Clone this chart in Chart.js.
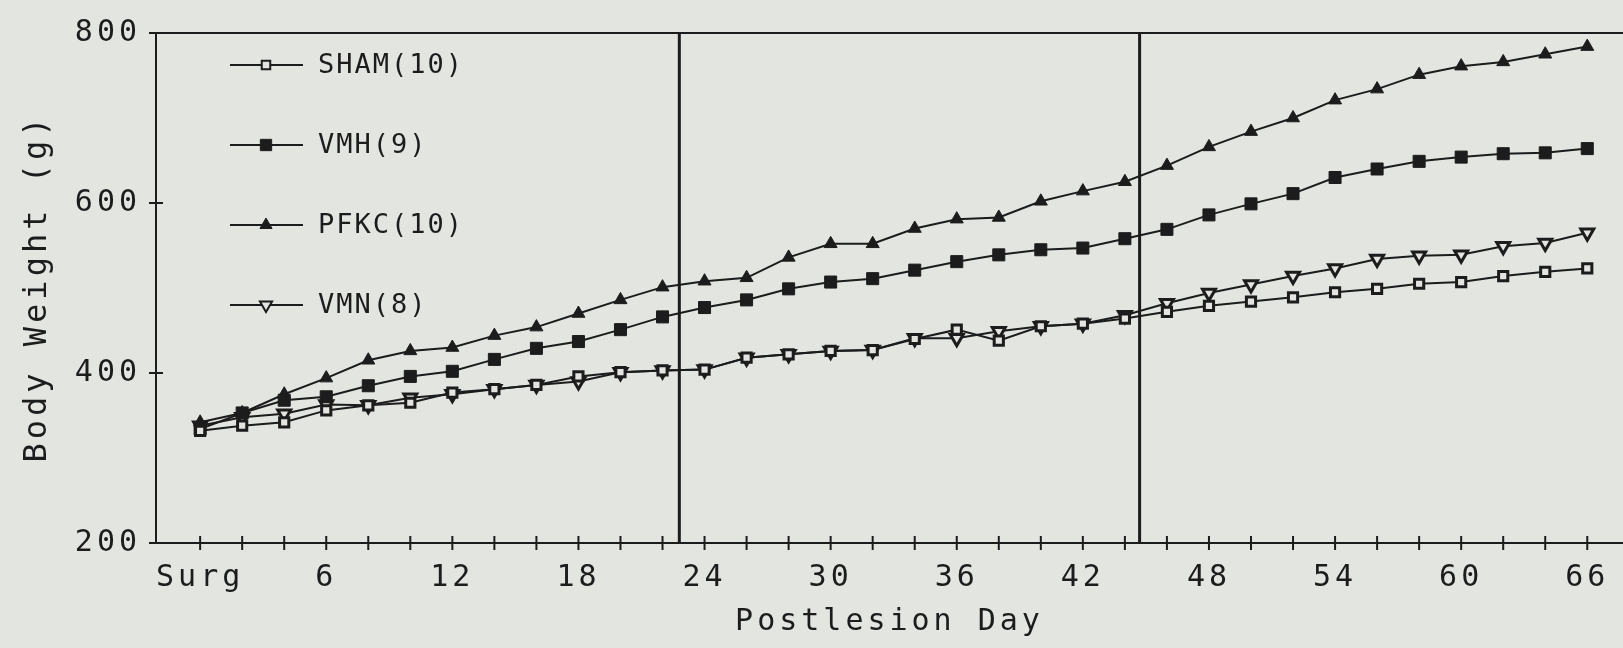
<!DOCTYPE html>
<html>
<head>
<meta charset="utf-8">
<script src="https://cdn.jsdelivr.net/npm/chart.js"></script>
<style>
  html, body { margin: 0; padding: 0; background: #e3e5e1; }
  canvas { display: block; }
</style>
</head>
<body>
<canvas id="weightChart" width="1623" height="648"></canvas>
<script>
// Postlesion day of each weighing (Surg = day 0)
const days = [0, 2, 4, 6, 8, 10, 12, 14, 16, 18, 20, 22, 24, 26, 28, 30, 32,
              34, 36, 38, 40, 42, 44, 46, 48, 50, 52, 54, 56, 58, 60, 62, 64, 66];
const labelDays = [0, 6, 12, 18, 24, 30, 36, 42, 48, 54, 60, 66];
const weightTicks = [200, 400, 600, 800];
const phaseDays = [22.8, 44.7];   // the two vertical lines

// mean body weight (g) per group
const sham = [332, 338, 342, 356, 362, 365, 377, 381, 386, 396, 401, 403, 404, 418, 422, 426, 427,
              440, 451, 438, 455, 458, 464, 472, 479, 484, 489, 495, 499, 505, 507, 514, 519, 523];
const vmh  = [334, 353, 368, 372, 385, 396, 402, 416, 429, 437, 451, 466, 477, 486, 499, 507, 511,
              521, 531, 539, 545, 547, 558, 569, 586, 599, 611, 630, 640, 649, 654, 658, 659, 664];
const pfkc = [342, 353, 375, 394, 415, 426, 430, 444, 454, 470, 486, 501, 508, 512, 536, 552, 552,
              570, 581, 583, 602, 614, 625, 644, 666, 684, 700, 721, 734, 751, 761, 766, 775, 784];
const vmn  = [338, 348, 352, 363, 362, 371, 375, 381, 386, 390, 401, 403, 404, 418, 422, 426, 427,
              441, 441, 449, 455, 458, 468, 482, 494, 504, 514, 523, 534, 538, 539, 549, 553, 565];

const ink = '#1c1c1c';
const paper = '#e3e5e1';
const mono = 'DejaVu Sans Mono';

function series(label, values, style, open, rotation, radius) {
    return {
        label: label,
        data: days.map((d, i) => ({ x: d, y: values[i] })),
        borderColor: ink,
        borderWidth: 2,
        pointStyle: style,
        pointRotation: rotation,
        pointRadius: radius,
        pointBackgroundColor: open ? paper : ink,
        pointBorderColor: ink,
        pointBorderWidth: open ? 3 : 1,
        tension: 0,
        fill: false
    };
}

const groups = [
    series('SHAM(10)', sham, 'rect', true, 0, 6.5),
    series('VMH(9)', vmh, 'rect', false, 0, 8.5),
    series('PFKC(10)', pfkc, 'triangle', false, 0, 7.5),
    series('VMN(8)', vmn, 'triangle', true, 180, 7.5)
];

// small marker drawer for the legend
function marker(ctx, style, open, rotation, r, x, y) {
    ctx.beginPath();
    if (style === 'rect') {
        const h = r * Math.SQRT1_2;
        ctx.rect(x - h, y - h, 2 * h, 2 * h);
    } else {
        const s = rotation ? -1 : 1;
        ctx.moveTo(x, y - s * r);
        ctx.lineTo(x + r * 0.866, y + s * r * 0.5);
        ctx.lineTo(x - r * 0.866, y + s * r * 0.5);
        ctx.closePath();
    }
    ctx.fillStyle = open ? paper : ink;
    ctx.fill();
    ctx.lineWidth = open ? 2 : 1;
    ctx.stroke();
}

const framePlugin = {
    id: 'frame',
    beforeInit(chart) { chart.ctx.letterSpacing = '4px'; },
    beforeDraw(chart) { chart.ctx.letterSpacing = '4px'; },
    beforeDatasetsDraw(chart) {
        const ctx = chart.ctx;
        const xs = chart.scales.x, ys = chart.scales.y;
        const { left, right, top, bottom } = chart.chartArea;
        ctx.save();
        ctx.strokeStyle = ink;
        ctx.lineWidth = 2;
        ctx.beginPath();
        ctx.moveTo(left, top); ctx.lineTo(right, top);
        ctx.moveTo(left, top); ctx.lineTo(left, bottom); ctx.lineTo(right, bottom);
        days.forEach(d => {
            const px = xs.getPixelForValue(d);
            ctx.moveTo(px, bottom - 7); ctx.lineTo(px, bottom + 7);
        });
        weightTicks.forEach(v => {
            const py = ys.getPixelForValue(v);
            ctx.moveTo(left - 7, py); ctx.lineTo(left + 7, py);
        });
        ctx.stroke();

        ctx.lineWidth = 3;
        ctx.beginPath();
        phaseDays.forEach(d => {
            const px = xs.getPixelForValue(d);
            ctx.moveTo(px, top); ctx.lineTo(px, bottom);
        });
        ctx.stroke();

        // legend, top-left inside the plot
        const legendStyle = [
            ['rect', true, 0, 6], ['rect', false, 0, 8],
            ['triangle', false, 0, 7], ['triangle', true, 180, 7]
        ];
        ctx.font = '27px "' + mono + '"';
        ctx.letterSpacing = '2px';
        ctx.textBaseline = 'middle';
        ctx.textAlign = 'left';
        groups.forEach((g, i) => {
            const y = 65 + i * 80;
            ctx.lineWidth = 2;
            ctx.strokeStyle = ink;
            ctx.beginPath();
            ctx.moveTo(230, y); ctx.lineTo(303, y);
            ctx.stroke();
            const s = legendStyle[i];
            marker(ctx, s[0], s[1], s[2], s[3], 266, y);
            ctx.fillStyle = ink;
            ctx.fillText(g.label, 318, y + 1);
        });
        ctx.restore();
    }
};

const tickFont = { family: mono, size: 30 };

new Chart(document.getElementById('weightChart').getContext('2d'), {
    type: 'line',
    data: { datasets: groups },
    options: {
        responsive: false,
        animation: false,
        layout: { autoPadding: false, padding: { top: 29, right: 0, bottom: 0, left: 0 } },
        plugins: {
            legend: { display: false },
            tooltip: { enabled: false }
        },
        scales: {
            x: {
                type: 'linear',
                min: -2.1,
                max: 67.7,
                grid: { display: false, drawTicks: false },
                border: { display: false },
                afterBuildTicks: scale => { scale.ticks = labelDays.map(v => ({ value: v })); },
                ticks: {
                    autoSkip: false,
                    maxRotation: 0,
                    padding: 17,
                    color: ink,
                    font: tickFont,
                    callback: v => v === 0 ? 'Surg' : String(v)
                },
                title: {
                    display: true,
                    text: 'Postlesion Day',
                    color: ink,
                    font: tickFont,
                    padding: { top: 0, bottom: 8 }
                },
                afterFit: scale => {
                    scale.height = 105;
                    scale.paddingLeft = 0;
                    scale.paddingRight = 0;
                }
            },
            y: {
                min: 200,
                max: 800,
                grid: { display: false, drawTicks: false },
                border: { display: false },
                afterBuildTicks: scale => { scale.ticks = weightTicks.map(v => ({ value: v })); },
                ticks: {
                    padding: 15,
                    color: ink,
                    font: tickFont
                },
                title: {
                    display: true,
                    text: 'Body Weight (g)',
                    color: ink,
                    font: { family: mono, size: 32 },
                    padding: { top: 18, bottom: 0 }
                },
                afterFit: scale => { scale.width = 156; }
            }
        }
    },
    plugins: [framePlugin]
});
</script>
</body>
</html>
